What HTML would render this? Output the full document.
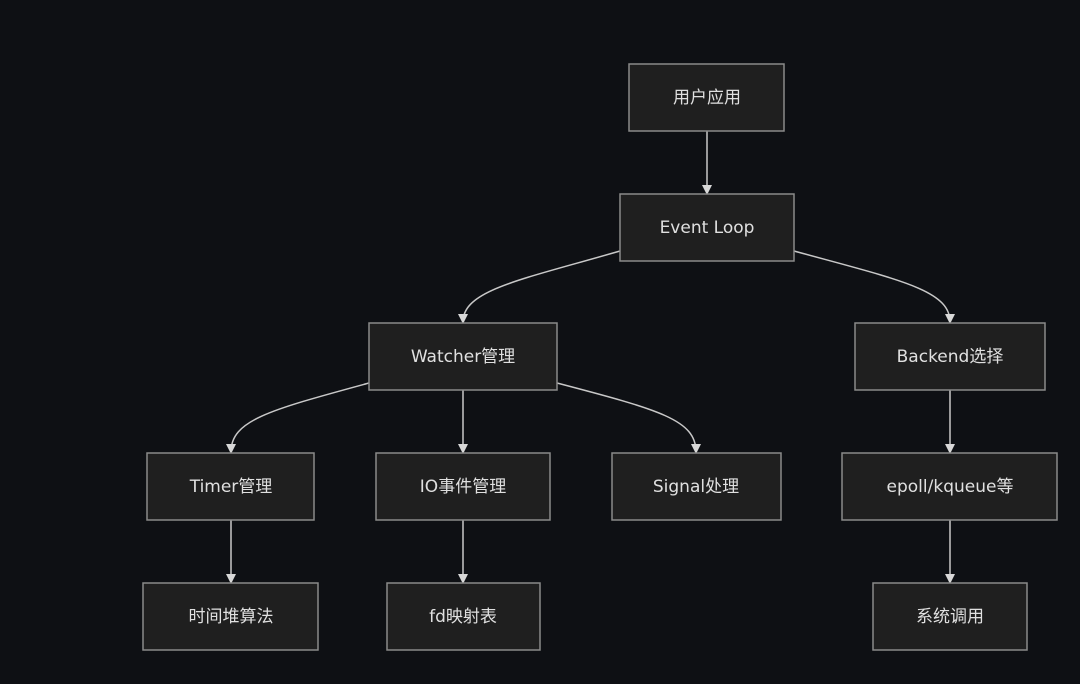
<!DOCTYPE html>
<html><head><meta charset="utf-8"><style>
html,body{margin:0;padding:0;background:#0e1014;}
svg{display:block}
text{font-family:"DejaVu Sans","Noto Sans CJK SC",sans-serif;font-size:17px;fill:#e0e0e0;text-anchor:middle;dominant-baseline:central}
rect{fill:#1f1f1f;stroke:#8a8a8a;stroke-width:1.5}
path{fill:none;stroke:#c8c8c8;stroke-width:1.5}
</style></head><body>
<svg width="1080" height="684" viewBox="0 0 1080 684">
<defs><marker id="a" markerWidth="10" markerHeight="10" refX="8" refY="5" orient="auto" markerUnits="userSpaceOnUse"><path d="M0,0 L10,5 L0,10 z" style="fill:#d8d8d8;stroke:none"/></marker></defs>
<path d="M707,131 V193" marker-end="url(#a)"/>
<path d="M620,251 C520,280 463,290 463,322" marker-end="url(#a)"/>
<path d="M794,251 C900,280 950,290 950,322" marker-end="url(#a)"/>
<path d="M369,383 C270,410 231,420 231,452" marker-end="url(#a)"/>
<path d="M463,390 V452" marker-end="url(#a)"/>
<path d="M557,383 C660,410 696,420 696,452" marker-end="url(#a)"/>
<path d="M950,390 V452" marker-end="url(#a)"/>
<path d="M231,520 V582" marker-end="url(#a)"/>
<path d="M463,520 V582" marker-end="url(#a)"/>
<path d="M950,520 V582" marker-end="url(#a)"/>
<rect x="629" y="64" width="155" height="67"/><text x="707" y="98">用户应用</text>
<rect x="620" y="194" width="174" height="67"/><text x="707" y="228">Event Loop</text>
<rect x="369" y="323" width="188" height="67"/><text x="463" y="357">Watcher管理</text>
<rect x="855" y="323" width="190" height="67"/><text x="950" y="357">Backend选择</text>
<rect x="147" y="453" width="167" height="67"/><text x="231" y="487">Timer管理</text>
<rect x="376" y="453" width="174" height="67"/><text x="463" y="487">IO事件管理</text>
<rect x="612" y="453" width="169" height="67"/><text x="696" y="487">Signal处理</text>
<rect x="842" y="453" width="215" height="67"/><text x="950" y="487">epoll/kqueue等</text>
<rect x="143" y="583" width="175" height="67"/><text x="231" y="617">时间堆算法</text>
<rect x="387" y="583" width="153" height="67"/><text x="463" y="617">fd映射表</text>
<rect x="873" y="583" width="154" height="67"/><text x="950" y="617">系统调用</text>
</svg>
</body></html>
